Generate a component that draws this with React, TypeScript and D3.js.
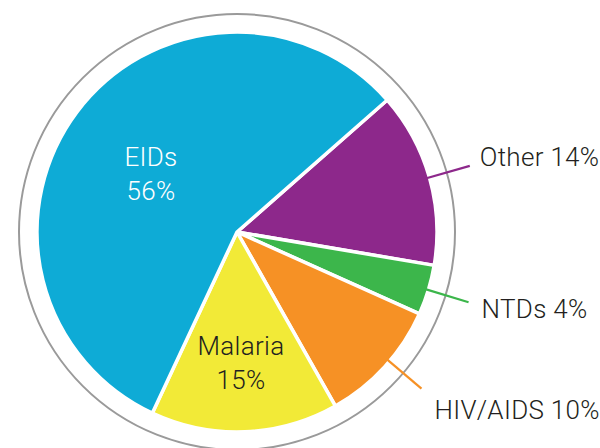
import React, { useEffect, useRef } from 'react';
import * as d3 from 'd3';

// slices in clockwise order, starting at the EIDs / Other boundary
const categories = ['Other', 'NTDs', 'HIV/AIDS', 'Malaria', 'EIDs'];
const shares = [14, 4, 10, 15, 56];
const colors = ['#8D288B', '#3CB64B', '#F69125', '#F2EA37', '#0EABD6'];

// outside labels with leader lines (label offset from the line end)
const outsideLabels = [
    { name: 'Other', shift: 0, dx: 10, dy: 0 },
    { name: 'NTDs', shift: 0, dx: 13, dy: 16 },
    { name: 'HIV/AIDS', shift: -2, dx: 13, dy: 30 },
];

const App = () => {
    const svgRef = useRef<SVGSVGElement | null>(null);

    useEffect(() => {
        document.body.style.margin = '0';
        if (!svgRef.current) return;

        const width = 600;
        const height = 448;
        const cx = 237;
        const cy = 232;
        const radius = 200;
        const ringRadius = 218;
        const font = 'Roboto, "Noto Sans", sans-serif';
        const fontSize = 26;

        const svg = d3.select(svgRef.current);
        svg.selectAll('*').remove();
        svg.attr('width', width).attr('height', height);

        const g = svg.append('g').attr('transform', `translate(${cx},${cy})`);

        g.append('circle')
            .attr('r', ringRadius)
            .attr('fill', 'none')
            .attr('stroke', '#9a9a9a')
            .attr('stroke-width', 2);

        const start = (48.7 * Math.PI) / 180;
        const pie = d3.pie<number>()
            .sort(null)
            .startAngle(start)
            .endAngle(start + Math.PI * 2);
        const arcs = pie(shares);

        const arc = d3.arc<d3.PieArcDatum<number>>()
            .innerRadius(0)
            .outerRadius(radius);

        g.selectAll('path.slice')
            .data(arcs)
            .enter()
            .append('path')
            .attr('class', 'slice')
            .attr('d', arc)
            .attr('fill', (d, i) => colors[i])
            .attr('stroke', '#fff')
            .attr('stroke-width', 3.5)
            .attr('stroke-linejoin', 'round');

        const polar = (angle: number, r: number) => [r * Math.sin(angle), -r * Math.cos(angle)];

        outsideLabels.forEach(lab => {
            const i = categories.indexOf(lab.name);
            const a = arcs[i];
            const mid = (a.startAngle + a.endAngle) / 2 + (lab.shift * Math.PI) / 180;
            const [x1, y1] = polar(mid, radius - 4);
            const [x2, y2] = polar(mid, radius + 42);
            g.append('line')
                .attr('x1', x1).attr('y1', y1)
                .attr('x2', x2).attr('y2', y2)
                .attr('stroke', colors[i])
                .attr('stroke-width', 2.2);
            g.append('text')
                .attr('x', x2 + lab.dx)
                .attr('y', y2 + lab.dy)
                .attr('font-family', font)
                .attr('font-weight', 300)
                .attr('font-size', fontSize)
                .attr('letter-spacing', 0.3)
                .attr('fill', '#231f20')
                .text(`${lab.name} ${shares[i]}%`);
        });

        // inside labels
        const inside = [
            { name: 'EIDs', color: '#ffffff', x: -86, y: -66 },
            { name: 'Malaria', color: '#231f20', x: 4, y: 123 },
        ];
        inside.forEach(lab => {
            const i = categories.indexOf(lab.name);
            const t = g.append('text')
                .attr('text-anchor', 'middle')
                .attr('font-family', font)
                .attr('font-weight', 300)
                .attr('font-size', fontSize)
                .attr('letter-spacing', 0.3)
                .attr('fill', lab.color);
            t.append('tspan').attr('x', lab.x).attr('y', lab.y).text(lab.name);
            t.append('tspan').attr('x', lab.x).attr('y', lab.y + 34).text(`${shares[i]}%`);
        });
    }, []);

    return (
        <div style={{ width: 600, height: 448, background: '#fff' }}>
            <svg ref={svgRef}></svg>
        </div>
    );
};

export default App;
